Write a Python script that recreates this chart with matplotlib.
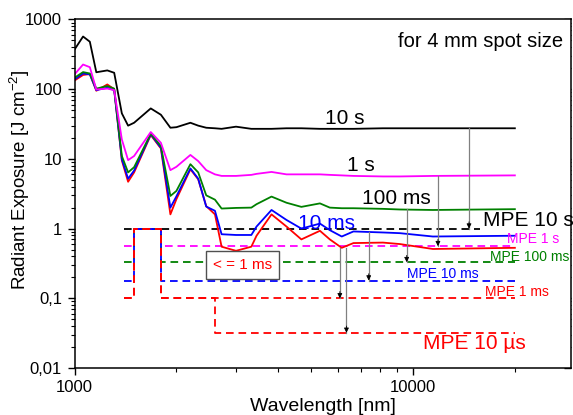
import numpy as np
import matplotlib
matplotlib.use("Agg")
import matplotlib.pyplot as plt
from matplotlib.ticker import LogLocator, NullFormatter, FixedLocator, FixedFormatter

plt.rcParams['font.family'] = ['Liberation Sans', 'DejaVu Sans']
plt.rcParams['mathtext.fontset'] = 'custom'
plt.rcParams['mathtext.rm'] = 'Liberation Sans'
plt.rcParams['mathtext.it'] = 'Liberation Sans:italic'
plt.rcParams['lines.scale_dashes'] = False

# ---- data (wavelength in nm, radiant exposure in J/cm^2) ----
wavelength = [1000, 1060, 1110, 1160, 1250, 1310, 1380, 1440, 1500, 1680, 1800, 1920,
              2000, 2200, 2320, 2450, 2600, 2720, 3000, 3330, 3450, 3820, 4230, 4680,
              5310, 5680, 6160, 6670, 8150, 9150, 11450, 20000]
exp_10s = [370, 570, 480, 175, 186, 172, 45, 30, 33, 53, 43, 28,
           28.5, 33, 30, 28, 27.5, 27, 29, 27, 27, 27, 27.5, 27.5,
           27, 27, 27, 27, 27.5, 27.5, 27.5, 27.5]
exp_1s = [163, 226, 207, 99, 102, 97, 19, 9.6, 11, 24.3, 17, 6.9,
          7.7, 11.4, 9.3, 6.9, 6.0, 5.7, 5.7, 5.9, 6.1, 6.5, 6.0, 6.0,
          6.0, 5.9, 5.8, 5.7, 5.6, 5.6, 5.7, 5.8]
exp_100ms = [146, 176, 168, 102, 111, 102, 11, 6.4, 7.6, 23, 15.3, 2.94,
             3.47, 8.4, 6.4, 3.0, 2.6, 1.94, 1.98, 2.0, 2.24, 2.88, 2.35, 2.05,
             2.3, 2.0, 1.96, 1.96, 1.92, 1.88, 1.85, 1.9]
exp_10ms = [138, 168, 163, 97, 105, 97, 9.9, 5.2, 6.8, 22.5, 14.5, 2.0,
            2.9, 7.3, 5.2, 2.07, 1.8, 0.83, 0.81, 0.81, 1.07, 1.85, 1.33, 1.0,
            1.18, 0.95, 0.77, 0.91, 0.88, 0.86, 0.77, 0.79]
exp_1ms = [133, 160, 165, 95, 117, 100, 9.5, 4.7, 6.4, 22, 14.1, 1.6,
           2.64, 7.1, 5.1, 2.1, 1.6, 0.55, 0.48, 0.55, 0.79, 1.6, 1.07, 0.70,
           0.93, 0.70, 0.53, 0.62, 0.63, 0.6, 0.51, 0.53]

# MPE step functions
mpe_x = [1400, 1500, 1500, 1800, 1800, 20000]
mpe_10s_x = [1400, 15800]
mpe_10s = [1.0, 1.0]
mpe_1s = [0.56, 0.56, 1.0, 1.0, 0.56, 0.56]
mpe_100ms = [0.33, 0.33, 1.0, 1.0, 0.33, 0.33]
mpe_10ms = [0.18, 0.18, 1.0, 1.0, 0.18, 0.18]
mpe_1ms = [0.1, 0.1, 1.0, 1.0, 0.1, 0.1]
mpe_10us_x = [1400, 1500, 1500, 1800, 1800, 2600, 2600, 20000]
mpe_10us = [0.1, 0.1, 1.0, 1.0, 0.1, 0.1, 0.032, 0.032]

# arrows: (wavelength, start value, end value)
arrow_x = [14640, 11850, 9580, 7400, 6080, 6360]
arrow_from = [27.5, 5.7, 1.92, 0.88, 0.53, 0.53]
arrow_to = [1.0, 0.56, 0.33, 0.18, 0.1, 0.032]

xticks = [1000, 10000]
xticklabels = ['1000', '10000']
yticks = [0.01, 0.1, 1, 10, 100, 1000]
yticklabels = ['0,01', '0,1', '1', '10', '100', '1000']

fig = plt.figure(figsize=(5.73, 4.15), dpi=100)
pos = [74.5 / 573, 1 - 368 / 415, (571 - 74.5) / 573, (368 - 19.5) / 415]
ax = fig.add_axes(pos)
ax.set_xscale('log')
ax.set_yscale('log')
XLIM = (1000, 29300)
YLIM = (0.01, 1000)

dash = dict(dashes=(5.5, 3.5), lw=1.3)
ax.plot(mpe_10s_x, mpe_10s, color='black', **dash)
ax.plot(mpe_x, mpe_1s, color='#ff00ff', **dash)
ax.plot(mpe_x, mpe_100ms, color='#008000', **dash)
ax.plot(mpe_x, mpe_10ms, color='#0000ff', **dash)
ax.plot(mpe_10us_x, mpe_10us, color='#ff0000', **dash)
ax.plot(mpe_x, mpe_1ms, color='#ff0000', **dash)

lw = 1.3
ax.plot(wavelength, exp_1ms, color='#ff0000', lw=lw)
ax.plot(wavelength, exp_10ms, color='#0000ff', lw=lw)
ax.plot(wavelength, exp_100ms, color='#008000', lw=lw)
ax.plot(wavelength, exp_1s, color='#ff00ff', lw=lw)
ax.plot(wavelength, exp_10s, color='black', lw=lw)

for xa, y0, y1 in zip(arrow_x, arrow_from, arrow_to):
    ax.plot([xa, xa], [y0, y1], color='#808080', lw=0.9)
    ax.annotate('', xy=(xa, y1), xytext=(xa, y1 * 1.25),
                arrowprops=dict(arrowstyle='-|>', color='black', lw=0.6,
                                mutation_scale=7, shrinkA=0, shrinkB=0))

ax.set_xlim(*XLIM)
ax.set_ylim(*YLIM)

ax.xaxis.set_major_locator(FixedLocator(xticks))
ax.xaxis.set_major_formatter(FixedFormatter(xticklabels))
ax.xaxis.set_minor_locator(LogLocator(base=10, subs=np.arange(2, 10), numticks=20))
ax.xaxis.set_minor_formatter(NullFormatter())
ax.yaxis.set_major_locator(FixedLocator(yticks))
ax.yaxis.set_major_formatter(FixedFormatter(yticklabels))
ax.yaxis.set_minor_locator(LogLocator(base=10, subs=np.arange(2, 10), numticks=20))
ax.yaxis.set_minor_formatter(NullFormatter())
ax.tick_params(which='major', direction='out', length=5, width=1, labelsize=12, pad=4)
ax.tick_params(which='minor', direction='out', length=3, width=0.8)
for s in ax.spines.values():
    s.set_linewidth(1.1)

# top/right inward ticks
ax2 = fig.add_axes(pos, frameon=False)
ax2.set_xscale('log'); ax2.set_yscale('log')
ax2.set_xlim(*XLIM); ax2.set_ylim(*YLIM)
ax2.xaxis.tick_top(); ax2.yaxis.tick_right()
ax2.xaxis.set_major_locator(FixedLocator(xticks))
ax2.xaxis.set_minor_locator(LogLocator(base=10, subs=np.arange(2, 10), numticks=20))
ax2.yaxis.set_major_locator(FixedLocator(yticks))
ax2.yaxis.set_minor_locator(LogLocator(base=10, subs=np.arange(2, 10), numticks=20))
ax2.tick_params(which='both', direction='in', labeltop=False, labelright=False,
                labelbottom=False, labelleft=False)
ax2.tick_params(which='major', length=5, width=1)
ax2.tick_params(which='minor', length=3, width=0.8)
ax2.set_zorder(ax.get_zorder() - 1)

ax.set_xlabel('Wavelength [nm]', fontsize=14, labelpad=2)
ax.set_ylabel('Radiant Exposure [J cm$^{-2}$]', fontsize=13.5)
ax.yaxis.set_label_coords(-0.085, 0.54)

ax.text(0.984, 0.92, 'for 4 mm spot size', transform=ax.transAxes, ha='right',
        va='baseline', fontsize=14.5)
ax.text(5500, 31.3, '10 s', fontsize=15, ha='left', va='baseline')
ax.text(6400, 6.6, '1 s', fontsize=15, ha='left', va='baseline')
ax.text(7070, 2.24, '100 ms', fontsize=15, ha='left', va='baseline')
ax.text(4570, 1.0, '10 ms', fontsize=15, ha='left', va='baseline', color='#0000ff')
ax.text(16100, 1.08, 'MPE 10 s', fontsize=15, ha='left', va='baseline')
ax.text(18960, 0.62, 'MPE 1 s', fontsize=10, ha='left', va='baseline', color='#ff00ff')
ax.text(16910, 0.34, 'MPE 100 ms', fontsize=10, ha='left', va='baseline', color='#008000')
ax.text(9600, 0.195, 'MPE 10 ms', fontsize=10, ha='left', va='baseline', color='#0000ff')
ax.text(16340, 0.108, 'MPE 1 ms', fontsize=10, ha='left', va='baseline', color='#ff0000')
ax.text(10710, 0.0185, 'MPE 10 µs', fontsize=15, ha='left', va='baseline', color='#ff0000')
ax.text(3130, 0.304, '< = 1 ms', fontsize=11, ha='center', va='center', color='#ff0000',
        bbox=dict(boxstyle='square,pad=0.45', fc='white', ec='#505050', lw=1.0))

fig.savefig('out.png', dpi=100)
